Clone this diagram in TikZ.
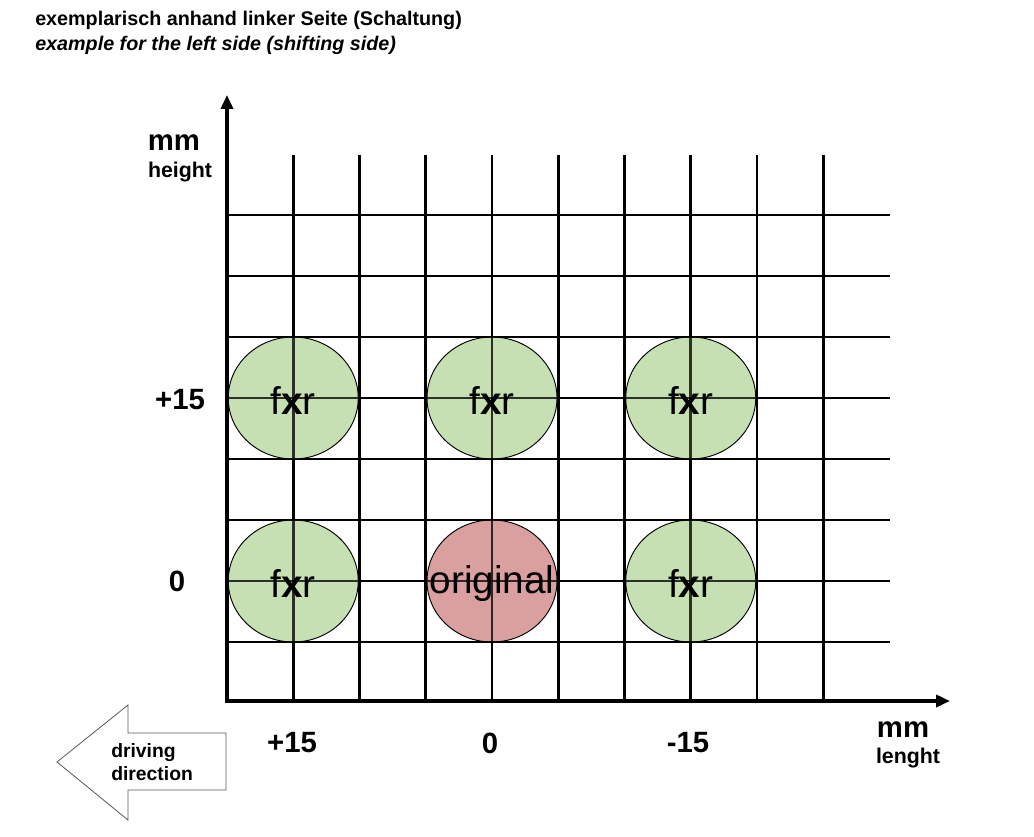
\documentclass[tikz,border=0pt]{standalone}
\usepackage{fontspec}
\setmainfont{Liberation Sans}
\usetikzlibrary{arrows.meta,shapes.geometric}
\definecolor{fxgreen}{RGB}{198,224,180}
\definecolor{origred}{RGB}{218,160,160}
\begin{document}
\begin{tikzpicture}[x=0.75pt,y=-0.75pt,
  gridline/.style={line width=2.2pt},
  axisline/.style={line width=3pt,-{Triangle[length=10.5pt,width=9pt]}},
  blob/.style={ellipse,draw=black,line width=0.7pt,minimum width=97.5pt,minimum height=91.5pt,inner sep=0pt},
  fxr/.style={blob,fill=fxgreen},
  orig/.style={blob,fill=origred},
  blobtext/.style={inner sep=0pt,yshift=-2.2pt,font=\fontsize{29}{32}\selectfont},
  biglbl/.style={font=\bfseries\fontsize{22}{24}\selectfont},
  smalllbl/.style={font=\bfseries\fontsize{16}{18}\selectfont},
  titlelbl/.style={anchor=west,inner sep=0pt,font=\bfseries\fontsize{14.8}{17}\selectfont},
  dirarrow/.style={draw=black!65,line width=0.6pt,fill=white}
]
\useasboundingbox (0,0) rectangle (1034,837);
\fill[white] (0,0) rectangle (1034,837);

% titles
\node[titlelbl] (t1) at (35,20) {exemplarisch anhand linker Seite (Schaltung)};
\node[titlelbl,font=\bfseries\itshape\fontsize{14.8}{17}\selectfont] (t2) at (35,45) {example for the left side (shifting side)};

% grid
\def\gridlines#1{%
  \foreach \x in {293.25,359.5,425.75,492,558.25,624.5,690.75,757,823.25}
    \draw[gridline,#1] (\x,155) -- (\x,701);
  \foreach \y in {215,276,337,398,459,520,581,642}
    \draw[gridline,#1] (227,\y) -- (890,\y);}
\gridlines{}

% circles
\node[fxr] (a1) at (293.25,398) {};
\node[fxr] (a2) at (492,398) {};
\node[fxr] (a3) at (690.75,398) {};
\node[fxr] (b1) at (293.25,581) {};
\node[orig] (b2) at (492,581) {};
\node[fxr] (b3) at (690.75,581) {};

% grid shows through the circles
\gridlines{draw opacity=0.78}

% axes
\coordinate (origin) at (227,701);
\coordinate (ytip) at (227,95);
\coordinate (xstart) at (225,701);
\coordinate (xtip) at (950,701);
\draw[axisline] (origin) -- (ytip);
\draw[axisline] (xstart) -- (xtip);

% circle texts
\node[blobtext] (a1t) at (a1) {f\textbf{x}r};
\node[blobtext] (a2t) at (a2) {f\textbf{x}r};
\node[blobtext] (a3t) at (a3) {f\textbf{x}r};
\node[blobtext] (b1t) at (b1) {f\textbf{x}r};
\node[blobtext] (b2t) at (b2) {original};
\node[blobtext] (b3t) at (b3) {f\textbf{x}r};

% axis labels
\node[biglbl] (ymm) at (174,143) {mm};
\node[smalllbl] (yh) at (180,172) {height};
\node[biglbl] (yp15) at (180,400) {+15};
\node[biglbl] (y0) at (177,581) {0};
\node[biglbl] (xp15) at (292,743) {+15};
\node[biglbl] (x0) at (490,743) {0};
\node[biglbl] (xm15) at (688,743) {-15};
\node[biglbl] (xmm) at (903,730) {mm};
\node[smalllbl] (xl) at (908,758) {lenght};

% driving direction
\draw[dirarrow] (57,762) -- (128,705) -- (128,733) -- (226,733) -- (226,790) -- (128,790) -- (128,820) -- cycle;
\node[anchor=west,align=left,inner sep=0pt,font=\bfseries\fontsize{14.5}{17}\selectfont] (drv) at (111,762) {driving\\direction};
\end{tikzpicture}
\end{document}
